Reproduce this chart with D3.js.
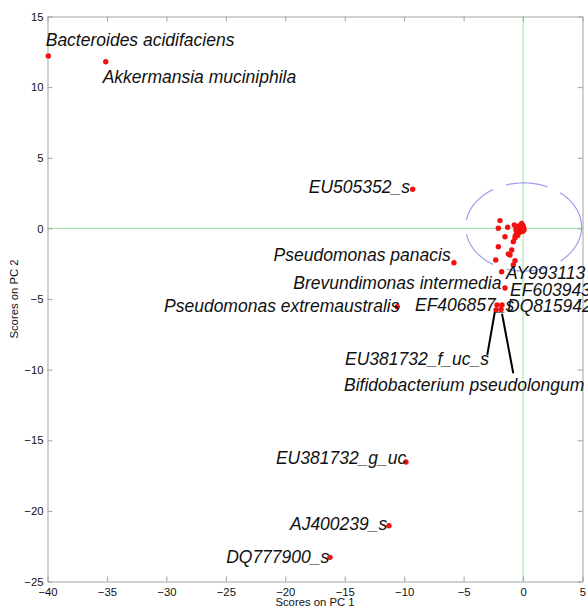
<!DOCTYPE html>
<html>
<head>
<meta charset="utf-8">
<script src="https://cdn.jsdelivr.net/npm/d3@7/dist/d3.min.js"></script>
<style>
  html, body { margin: 0; padding: 0; background: #fff; }
  svg { display: block; }
  .axis text { font-family: "Liberation Sans", Arial, sans-serif; font-size: 11.3px; fill: #111; }
  .axis path, .axis line { stroke: #a3a3a3; }
  .title { font-family: "Liberation Sans", Arial, sans-serif; font-size: 11.3px; fill: #111; }
  .lbl { font-family: "Liberation Sans", Arial, sans-serif; font-size: 17.5px; font-style: italic; fill: #111; }
</style>
</head>
<body>
<svg id="chart" width="588" height="609"></svg>
<script>
// PCA scores: PC1 / PC2 for every taxon
const pc1 = [
  -39.93, -35.10, -9.28, -5.81, -10.58, -9.85, -11.28, -16.24,
  -1.94, -2.08, -1.29, -0.74, -1.52, -0.68, -0.82, -2.08, -1.24, -1.10, -0.95,
  -2.30, -0.68, -0.82, -1.80, -1.52,
  -2.19, -1.77, -2.27, -1.85,
  -0.05, 0.02, -0.15, -0.25, -0.10, 0.05, -0.20, -0.30, -0.40, -0.05, -0.15, -0.28,
  -0.38, 0.00, -0.22, -0.35, -0.48, -0.55, -0.65, -0.45, -0.12, -0.50, -0.60, 0.08
];
const pc2 = [
  12.20, 11.80, 2.77, -2.43, -5.54, -16.54, -21.05, -23.29,
  0.55, 0.01, 0.08, 0.24, -0.59, -0.68, -0.94, -1.30, -1.81, -1.88, -1.53,
  -2.24, -2.29, -2.59, -3.07, -4.22,
  -5.42, -5.42, -5.78, -5.74,
  0.22, 0.15, 0.25, 0.18, 0.08, 0.02, 0.02, 0.10, 0.15, -0.08, -0.12, -0.10,
  -0.05, -0.20, -0.25, -0.30, -0.22, -0.40, -0.52, -0.50, 0.35, 0.10, -0.10, -0.10
];

// Taxon names and where each name sits (PC1, PC2, text anchor)
const labelText = [
  "Bacteroides acidifaciens", "Akkermansia muciniphila", "EU505352_s",
  "Pseudomonas panacis", "Brevundimonas intermedia", "Pseudomonas extremaustralis",
  "EF406857_s", "AY993113", "EF603943", "DQ815942",
  "EU381732_f_uc_s", "Bifidobacterium pseudolongum",
  "EU381732_g_uc", "AJ400239_s", "DQ777900_s"
];
const labelPc1 = [-40.15, -35.36, -9.51, -6.09, -19.33, -10.40, -9.09, -1.43, -1.09, -1.35, -14.98, -15.06, -9.82, -11.42, -16.30];
const labelPc2 = [13.34, 10.74, 2.95, -1.88, -3.84, -5.47, -5.42, -3.16, -4.31, -5.49, -9.20, -11.09, -16.25, -20.89, -23.24];
const labelAnchor = ["start", "start", "end", "end", "start", "end", "start", "start", "start", "start", "start", "start", "end", "end", "end"];

// Leader lines from two names to their points
const leaderFrom = [[-3.01, -8.96], [-0.82, -10.26]];
const leaderTo   = [[-2.36, -5.85], [-1.77, -6.04]];

// Confidence ellipse around the origin
const ellipseCenter = [0.05, 0.1];
const ellipseRadii = [4.87, 3.12];

const xTicks = [-40, -35, -30, -25, -20, -15, -10, -5, 0, 5];
const yTicks = [-25, -20, -15, -10, -5, 0, 5, 10, 15];

const svg = d3.select("#chart");
const plotLeft = 47.5, plotRight = 582.5, plotTop = 16.5, plotBottom = 581.5;

const x = d3.scaleLinear().domain([-40, 5]).range([plotLeft, plotRight]);
const y = d3.scaleLinear().domain([-25, 15]).range([plotBottom, plotTop]);

// zero reference lines
svg.append("line")
  .attr("x1", x(0)).attr("x2", x(0)).attr("y1", y(-25)).attr("y2", y(15))
  .attr("stroke", "#a8eaa8").attr("stroke-width", 1.2);
svg.append("line")
  .attr("x1", x(-40)).attr("x2", x(5)).attr("y1", y(0)).attr("y2", y(0))
  .attr("stroke", "#a8eaa8").attr("stroke-width", 1.2);

// dashed ellipse
const angles = d3.range(0, 361, 2).map(d => d * Math.PI / 180);
svg.append("path")
  .datum(angles)
  .attr("d", d3.line()
    .x(t => x(ellipseCenter[0] + ellipseRadii[0] * Math.cos(t)))
    .y(t => y(ellipseCenter[1] + ellipseRadii[1] * Math.sin(t))))
  .attr("fill", "none")
  .attr("stroke", "#9d9df0")
  .attr("stroke-width", 1.2)
  .attr("stroke-dasharray", "42,14");

// axes (box with inward ticks)
svg.append("g").attr("class", "axis")
  .attr("transform", `translate(0,${plotBottom})`)
  .call(d3.axisBottom(x).tickValues(xTicks).tickSizeInner(-5).tickSizeOuter(0).tickPadding(6));
svg.append("g").attr("class", "axis")
  .attr("transform", `translate(0,${plotTop})`)
  .call(d3.axisTop(x).tickValues(xTicks).tickSizeInner(-5).tickSizeOuter(0).tickFormat(""));
svg.append("g").attr("class", "axis")
  .attr("transform", `translate(${plotLeft},0)`)
  .call(d3.axisLeft(y).tickValues(yTicks).tickSizeInner(-5).tickSizeOuter(0).tickPadding(4));
svg.append("g").attr("class", "axis")
  .attr("transform", `translate(${plotRight},0)`)
  .call(d3.axisRight(y).tickValues(yTicks).tickSizeInner(-5).tickSizeOuter(0).tickFormat(""));
svg.selectAll(".axis .domain").attr("stroke", "#a3a3a3");

// axis titles
svg.append("text").attr("class", "title")
  .attr("x", (plotLeft + plotRight) / 2).attr("y", 606)
  .attr("text-anchor", "middle").text("Scores on PC 1");
svg.append("text").attr("class", "title")
  .attr("transform", `translate(18,${(plotTop + plotBottom) / 2}) rotate(-90)`)
  .attr("text-anchor", "middle").text("Scores on PC 2");

// leader lines
svg.selectAll(".leader").data(leaderFrom).enter().append("line")
  .attr("x1", d => x(d[0])).attr("y1", d => y(d[1]))
  .attr("x2", (d, i) => x(leaderTo[i][0])).attr("y2", (d, i) => y(leaderTo[i][1]))
  .attr("stroke", "#000").attr("stroke-width", 2);

// score points
svg.selectAll(".pt").data(pc1).enter().append("circle")
  .attr("cx", d => x(d))
  .attr("cy", (d, i) => y(pc2[i]))
  .attr("r", 2.7)
  .attr("fill", "#f21010");

// taxon names
svg.selectAll(".lbl").data(labelText).enter().append("text")
  .attr("class", "lbl")
  .attr("x", (d, i) => x(labelPc1[i]))
  .attr("y", (d, i) => y(labelPc2[i]))
  .attr("dy", "0.36em")
  .attr("text-anchor", (d, i) => labelAnchor[i])
  .text(d => d);
</script>
</body>
</html>
